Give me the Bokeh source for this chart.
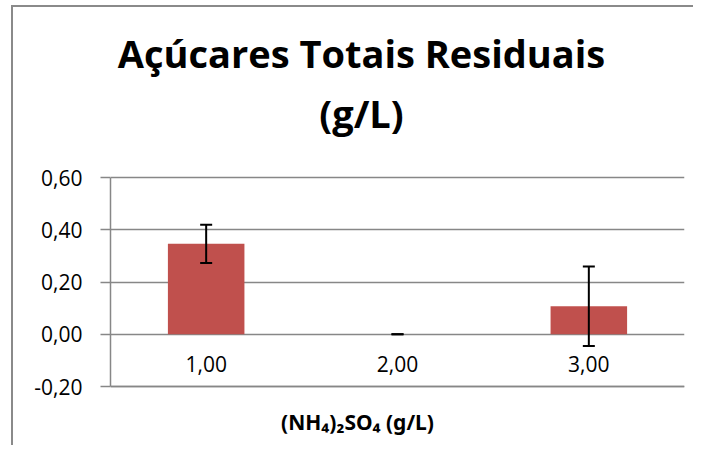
from bokeh.plotting import figure
from bokeh.models import (ColumnDataSource, Whisker, TeeHead, FixedTicker,
                          CustomJSTickFormatter, Range1d, Label)
from bokeh.embed import file_html
from bokeh.resources import INLINE

title_lines = ["Açúcares Totais Residuais", "(g/L)"]
x_label = "(NH₄)₂SO₄ (g/L)"
x_values = [1.0, 2.0, 3.0]
values = [0.346, 0.0, 0.107]
errors = [0.073, 0.0, 0.152]
y_ticks = [-0.2, 0.0, 0.2, 0.4, 0.6]

BAR = "#C0504D"
GRID = "#878787"
FONT = "Open Sans"

# layout (pixels): frame spans page y 25..445; value axis -0.2..0.6 spans y 386..177
W, H = 693, 445
LEFT, RIGHT = 110, 9
FRAME_TOP = 25
Y0_PX, Y1_PX = 386, 177          # pixel rows of -0.2 and 0.6
PX = (Y0_PX - Y1_PX) / (y_ticks[-1] - y_ticks[0])
y_start = y_ticks[0] - (H - Y0_PX) / PX
y_end = y_ticks[-1] + (Y1_PX - FRAME_TOP) / PX
XPX = (W - LEFT - RIGHT) / 3.0


def px_to_x(px):
    return 0.5 + (px - LEFT) / XPX


def px_to_y(py):
    return y_ticks[-1] + (Y1_PX - py) / PX


upper = [v + e for v, e in zip(values, errors)]
lower = [v - e for v, e in zip(values, errors)]
source = ColumnDataSource(dict(x=x_values, val=values, upper=upper, lower=lower))

p = figure(x_range=Range1d(0.5, 3.5), y_range=Range1d(y_start, y_end), width=W, height=H,
           output_backend="svg", toolbar_location=None,
           min_border_left=LEFT, min_border_right=RIGHT,
           min_border_top=FRAME_TOP, min_border_bottom=0)
p.outline_line_color = None
p.background_fill_color = None
p.border_fill_color = None
p.styles = {
    "background": ("linear-gradient(#8a8a8a, #8a8a8a) 11px 5px / 2px 100% no-repeat, "
                   "linear-gradient(#8a8a8a, #8a8a8a) 11px 5px / 100% 2px no-repeat, white"),
}

comma = CustomJSTickFormatter(code="return tick.toFixed(2).replace('.', ',');")

p.vbar(x="x", top="val", width=0.4, source=source, fill_color=BAR, line_color=None)
wh = Whisker(source=source, base="x", upper="upper", lower="lower",
             line_color="black", line_width=2, level="overlay",
             upper_head=TeeHead(size=12, line_color="black", line_width=2),
             lower_head=TeeHead(size=12, line_color="black", line_width=2))
p.add_layout(wh)

yaxis = p.yaxis[0]
yaxis.ticker = FixedTicker(ticks=y_ticks)
yaxis.bounds = (y_ticks[0], y_ticks[-1])
yaxis.formatter = comma
yaxis.major_tick_out = 10
yaxis.major_tick_in = 0
yaxis.minor_tick_out = 0
yaxis.minor_tick_in = 0
yaxis.axis_line_color = GRID
yaxis.axis_line_width = 1.5
yaxis.major_tick_line_color = GRID
yaxis.major_tick_line_width = 1.5
yaxis.major_label_text_font = FONT
yaxis.major_label_text_font_size = "21px"
yaxis.major_label_text_color = "black"
yaxis.major_label_standoff = 18

xaxis = p.xaxis[0]
xaxis.fixed_location = y_ticks[0]
xaxis.ticker = FixedTicker(ticks=x_values)
xaxis.formatter = comma
xaxis.axis_line_color = GRID
xaxis.axis_line_width = 1.5
xaxis.major_tick_out = 0
xaxis.major_tick_in = 0
xaxis.minor_tick_out = 0
xaxis.minor_tick_in = 0
xaxis.major_label_standoff = -31
xaxis.major_label_text_font = FONT
xaxis.major_label_text_font_size = "21px"
xaxis.major_label_text_color = "black"

p.ygrid.ticker = FixedTicker(ticks=y_ticks)
p.ygrid.grid_line_color = GRID
p.ygrid.grid_line_width = 1.5
p.xgrid.grid_line_color = None

for txt, base_px in zip(title_lines, [52, 112.5]):
    p.add_layout(Label(x=px_to_x(361), y=px_to_y(base_px), text=txt,
                       text_align="center", text_baseline="alphabetic",
                       text_font=FONT, text_font_style="bold",
                       text_font_size="38px", text_color="black"))

p.add_layout(Label(x=px_to_x(357), y=px_to_y(421), text=x_label,
                   text_align="center", text_baseline="middle",
                   text_font="Noto Sans", text_font_style="bold",
                   text_font_size="21px", text_color="black"))

open("out.html", "w").write(file_html(p, INLINE))
